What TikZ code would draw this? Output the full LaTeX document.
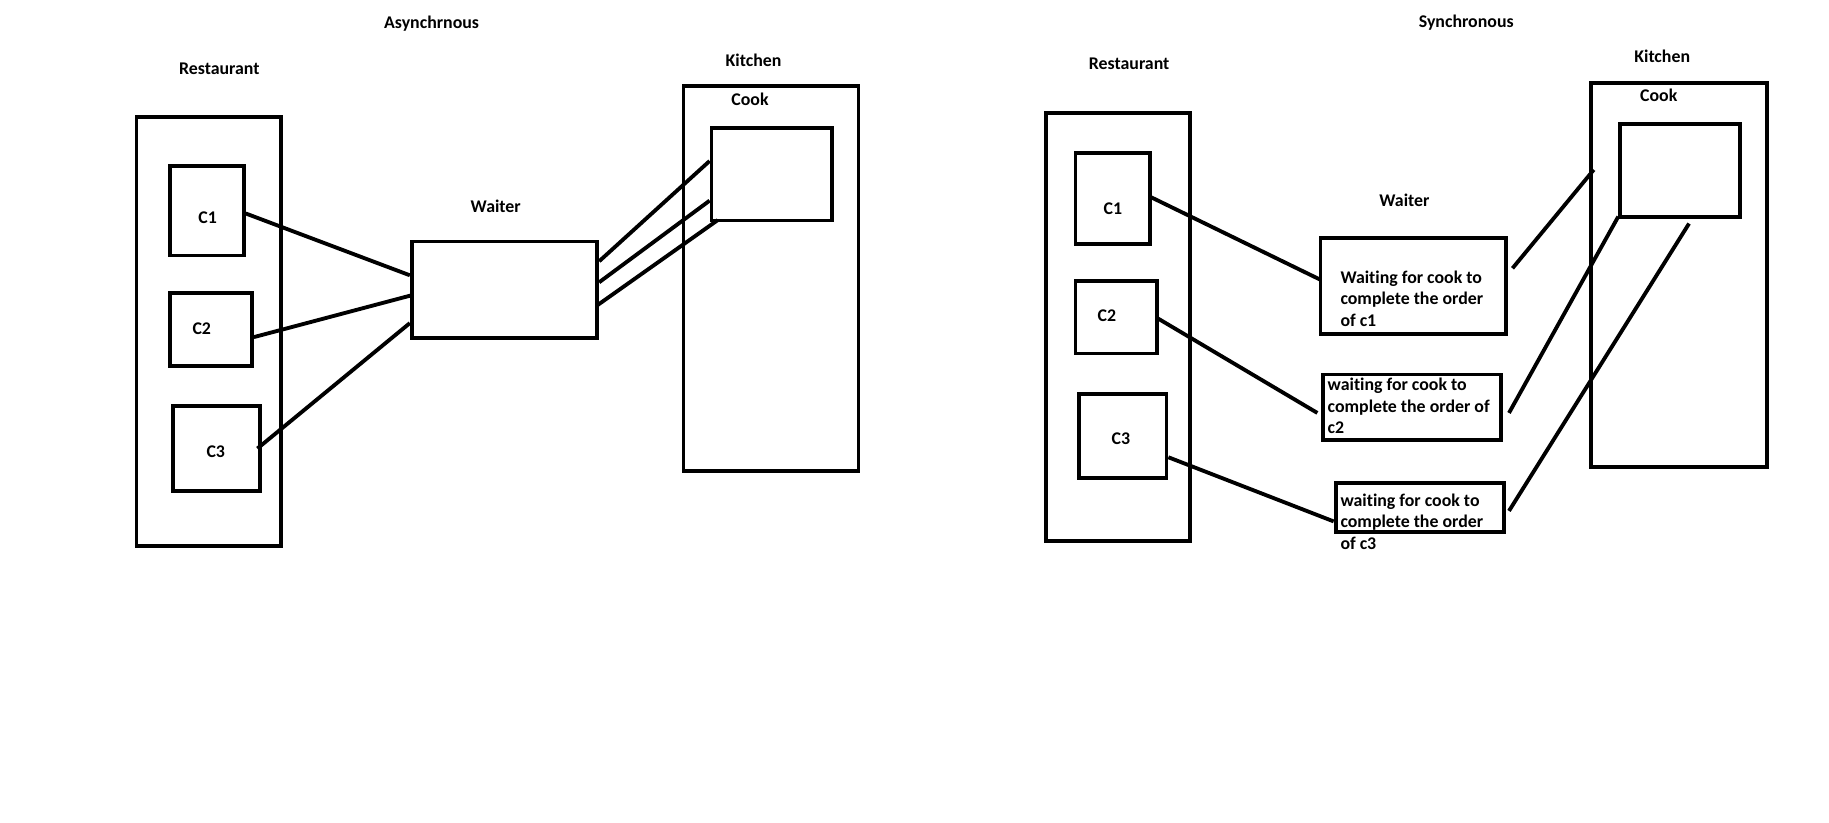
\documentclass[tikz,border=0pt]{standalone}
\usepackage{fontspec}
\setmainfont{Carlito}[Ligatures=NoCommon]
\usetikzlibrary{calc}
\begin{document}
\begin{tikzpicture}[x=1pt,y=-1pt,
  box/.style={draw=black,line width=3.3pt,inner sep=0pt,fill=none},
  link/.style={draw=black,line width=3.3pt},
  lbl/.style={inner sep=0pt,font=\bfseries\fontsize{15.3}{18.5}\selectfont},
  note/.style={inner sep=0pt,align=left,anchor=west,font=\bfseries\fontsize{15.3}{18.5}\selectfont}]
\useasboundingbox[fill=white] (0,0) rectangle (1568,705);

% ---------- Asynchronous side ----------
\node[lbl] (t1) at (370,20) {Asynchrnous};
\node[lbl] (rl1) at (188,59) {Restaurant};
\node[lbl] (kl1) at (646,52) {Kitchen};
\node[lbl] (cl1) at (643,85) {Cook};
\node[lbl] (wl1) at (425,177) {Waiter};

\node[box,minimum width=124,minimum height=368] (rest) at (179,284) {};
\node[box,minimum width=63,minimum height=77] (c1) at (177.5,180.5) {};
\node[box,minimum width=70,minimum height=63] (c2) at (181,282.5) {};
\node[box,minimum width=75,minimum height=73] (c3) at (185.5,384.5) {};
\node[lbl] (c1t) at (178,187) {C1};
\node[lbl] (c2t) at (173,282) {C2};
\node[lbl] (c3t) at (185,387) {C3};

\node[box,minimum width=159,minimum height=83] (waiter) at (432.5,248.5) {};
\node[box,minimum width=150,minimum height=330] (kitchen) at (661,239) {};
\node[box,minimum width=103,minimum height=79] (cook) at (661.5,149.5) {};

\draw[link] ($(c1.east)+(0,2.5)$) -- ($(waiter.west)+(0,-12.5)$);
\draw[link] ($(c2.east)+(0,6.5)$) -- ($(waiter.west)+(2,4.5)$);
\draw[link] ($(c3.east)+(-4,0)$) -- ($(waiter.west)+(0,28.5)$);
\draw[link] ($(waiter.east)+(0,-24.5)$) -- ($(cook.west)+(0,-11.5)$);
\draw[link] ($(waiter.east)+(0,-6.5)$) -- ($(cook.west)+(0,22.5)$);
\draw[link] ($(waiter.east)+(-2,13.5)$) -- ($(cook.south west)+(7,-2)$);

% ---------- Synchronous side ----------
\node[lbl] (t2) at (1257,19) {Synchronous};
\node[lbl] (rl2) at (968,55) {Restaurant};
\node[lbl] (kl2) at (1425,48) {Kitchen};
\node[lbl] (cl2) at (1422,82) {Cook};
\node[lbl] (wl2) at (1204,172) {Waiter};

\node[box,minimum width=123,minimum height=367] (rest2) at (958.5,280.5) {};
\node[box,minimum width=64,minimum height=78] (d1) at (954,170) {};
\node[box,minimum width=70,minimum height=62] (d2) at (957,272) {};
\node[box,minimum width=75,minimum height=72] (d3) at (962.5,374) {};
\node[lbl] (d1t) at (954,179) {C1};
\node[lbl] (d2t) at (949,271) {C2};
\node[lbl] (d3t) at (961,376) {C3};

\node[box,minimum width=159,minimum height=82] (w1) at (1211.5,245) {};
\node[box,minimum width=153,minimum height=56] (w2) at (1210.5,349) {};
\node[box,minimum width=144,minimum height=42] (w3) at (1217,435) {};
\node[note] (w1t) at (1149,256) {Waiting for cook to\\complete the order\\of c1};
\node[note] (w2t) at (1138,348) {waiting for cook to\\complete the order of\\c2};
\node[note] (w3t) at (1149,447) {waiting for cook to\\complete the order\\of c3};

\node[box,minimum width=151,minimum height=329] (kitchen2) at (1439.5,235.5) {};
\node[box,minimum width=103,minimum height=80] (cook2) at (1440.5,146) {};

\draw[link] ($(d1.east)+(-1,-1)$) -- ($(w1.west)+(2,-5)$);
\draw[link] ($(d2.east)+(-1,1)$) -- ($(w2.west)+(-3,5)$);
\draw[link] ($(d3.east)+(0,18)$) -- ($(w3.west)+(0,12)$);
\draw[link] ($(w1.east)+(4,-15)$) -- ($(kitchen2.west)+(4,-90)$);
\draw[link] ($(w2.east)+(5,5)$) -- ($(cook2.south west)+(0,-2)$);
\draw[link] ($(w3.east)+(3,3)$) -- ($(cook2.south)+(7.5,4)$);
\end{tikzpicture}
\end{document}
